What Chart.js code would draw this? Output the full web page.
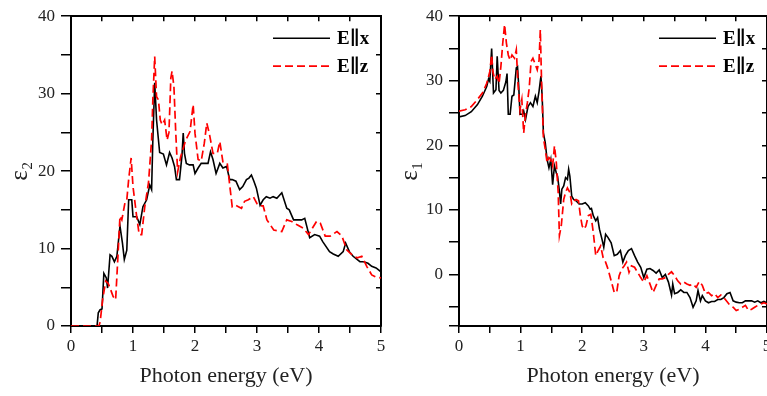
<!DOCTYPE html>
<html>
<head>
<meta charset="utf-8">
<script src="https://cdn.jsdelivr.net/npm/chart.js@4/dist/chart.umd.min.js"></script>
<style>
  html, body { margin:0; padding:0; background:#fff; width:767px; height:396px; overflow:hidden; }
  .box { position:absolute; top:0; }
  #b1 { left:0; width:390px; height:396px; }
  #b2 { left:390px; width:386px; height:396px; }
</style>
</head>
<body>
<div class="box" id="b1"><canvas id="c1" width="390" height="396"></canvas></div>
<div class="box" id="b2"><canvas id="c2" width="386" height="396"></canvas></div>
<script>
// ---------- data ----------
const seriesNames = ['E\u2225x', 'E\u2225z'];
const xTitle = 'Photon energy (eV)';
const yTitles = ['\u03B5\u2082', '\u03B5\u2081'];

// epsilon_2, E||x
const eps2xE = [0,0.42,0.44,0.47,0.5,0.53,0.57,0.59,0.63,0.66,0.7,0.74,0.79,0.83,0.86,0.9,0.93,0.98,1.0,1.06,1.11,1.16,1.22,1.27,1.3,1.32,1.35,1.38,1.43,1.49,1.54,1.59,1.63,1.67,1.7,1.75,1.79,1.81,1.83,1.86,1.91,1.97,2.0,2.05,2.1,2.16,2.21,2.25,2.29,2.34,2.4,2.45,2.51,2.56,2.6,2.66,2.72,2.77,2.83,2.87,2.91,2.95,2.99,3.05,3.1,3.15,3.21,3.26,3.32,3.4,3.48,3.52,3.59,3.65,3.72,3.77,3.85,3.93,4.01,4.06,4.17,4.23,4.31,4.39,4.43,4.49,4.55,4.66,4.72,4.79,4.85,4.92,5.0];
const eps2xV = [0,0,1.7,2.1,2.2,6.8,6.2,4.9,9.2,9.0,8.3,9.0,12.9,10.7,8.6,9.8,16.3,16.3,14.1,14.1,13.1,15.4,16.3,18.2,17.6,24,31.4,26.6,22.4,22.2,20.8,22.4,21.7,20.6,18.9,18.9,22,24.9,22.3,21,20.8,20.8,19.7,20.4,21,21,21,22.5,21.5,19.7,21,20.4,20.6,18.9,18.9,18.7,17.6,18.0,18.9,19.1,19.5,18.7,17.8,15.6,16.3,16.7,16.5,16.7,16.5,17.2,15.2,15.0,13.7,13.7,13.7,13.9,11.4,11.8,11.6,10.9,9.6,9.3,9.0,9.6,10.7,9.6,9.0,8.3,8.3,8.1,7.7,7.5,7.0];

// epsilon_2, E||z
const eps2zE = [0,0.45,0.47,0.51,0.56,0.6,0.63,0.68,0.72,0.76,0.79,0.82,0.87,0.9,0.93,0.97,1.0,1.06,1.1,1.14,1.19,1.25,1.3,1.32,1.35,1.38,1.41,1.44,1.47,1.51,1.55,1.58,1.61,1.63,1.66,1.69,1.72,1.77,1.85,1.92,1.97,2.0,2.05,2.1,2.15,2.19,2.23,2.29,2.36,2.4,2.45,2.52,2.56,2.6,2.65,2.7,2.75,2.8,2.86,2.94,3.0,3.05,3.1,3.16,3.27,3.4,3.48,3.56,3.64,3.75,3.83,3.96,4.02,4.1,4.18,4.29,4.37,4.45,4.56,4.62,4.69,4.77,4.85,4.92,5.0];
const eps2zV = [0,0,0.5,3.4,5.8,5.5,4.9,3.8,3.4,9.4,14.2,13.7,15.9,16.3,18.9,21.7,18.0,14.1,11.8,11.8,15.4,18.5,24.0,29.2,34.8,29.6,29.2,26.6,26.0,26.6,24.0,25.0,32.0,32.9,30.9,24.9,19.9,21.9,24.0,25.1,28.6,24.9,21.5,21.3,23.6,26.2,24.9,22.3,22.3,23.8,21.2,21.0,18.2,15.4,15.6,15.4,15.2,16.1,16.3,16.7,15.8,15.5,15.5,13.7,12.4,12.2,13.7,13.5,13.1,12.6,11.8,13.5,13.3,11.6,11.6,12.2,11.6,9.8,9.0,8.8,9.0,7.7,6.6,6.3,6.2];

// epsilon_1, E||x
const eps1xE = [0,0.1,0.2,0.3,0.38,0.45,0.48,0.5,0.53,0.56,0.6,0.62,0.65,0.68,0.72,0.76,0.78,0.8,0.83,0.86,0.89,0.93,0.95,0.97,0.99,1.03,1.05,1.08,1.12,1.16,1.2,1.24,1.27,1.3,1.33,1.35,1.37,1.4,1.43,1.46,1.49,1.52,1.55,1.58,1.6,1.63,1.65,1.67,1.7,1.73,1.76,1.78,1.8,1.83,1.86,1.9,1.95,2.0,2.05,2.1,2.13,2.15,2.18,2.22,2.25,2.28,2.32,2.35,2.38,2.42,2.47,2.52,2.57,2.62,2.66,2.7,2.75,2.8,2.85,2.9,2.95,3.0,3.05,3.1,3.15,3.2,3.25,3.3,3.35,3.4,3.45,3.47,3.5,3.55,3.6,3.65,3.7,3.75,3.8,3.85,3.88,3.92,3.95,4.0,4.05,4.1,4.15,4.2,4.25,4.3,4.35,4.4,4.45,4.5,4.55,4.6,4.65,4.7,4.75,4.8,4.85,4.9,4.95,5.0];
const eps1xV = [24.4,24.6,25.2,26.3,27.6,29.1,30.3,29.9,35.0,28.1,28.6,33.8,28.5,28.1,28.5,29.8,31.1,24.8,24.8,27.6,27.8,32.0,32.2,29.1,24.8,24.8,25.3,24.0,26.0,26.6,26.0,27.6,26.6,28.4,30.7,27.6,21.9,20.4,17.8,16.5,17.8,13.9,16.8,15.7,15.2,12.9,10.9,13.2,13.7,15.0,14.7,16.3,15.2,12.1,11.6,11.4,10.9,10.9,11.1,10.6,10.1,10.2,9.1,8.3,8.8,7.0,5.5,4.2,6.2,5.7,4.9,2.9,3.1,3.7,1.9,2.9,3.7,4.0,2.9,1.9,1.1,-0.5,0.8,0.9,0.6,0.2,0.7,-0.5,0,-1.2,-3.2,-1.5,-3.0,-2.8,-2.4,-2.8,-2.8,-3.6,-5.1,-4.1,-2.5,-4.1,-3.3,-4.1,-4.4,-4.2,-4.2,-3.9,-3.9,-3.6,-3.0,-2.8,-4.1,-4.3,-4.4,-4.4,-4.1,-4.1,-4.1,-4.3,-4.1,-4.4,-4.2,-4.4];

// epsilon_1, E||z
const eps1zE = [0,0.1,0.2,0.3,0.38,0.45,0.5,0.53,0.55,0.58,0.62,0.65,0.68,0.71,0.74,0.77,0.8,0.83,0.86,0.9,0.93,0.96,0.99,1.02,1.05,1.08,1.11,1.14,1.17,1.2,1.24,1.27,1.3,1.32,1.34,1.37,1.4,1.43,1.46,1.49,1.52,1.55,1.58,1.61,1.63,1.66,1.7,1.73,1.76,1.8,1.83,1.87,1.9,1.94,1.97,2.0,2.03,2.06,2.1,2.14,2.18,2.22,2.26,2.3,2.34,2.38,2.42,2.47,2.52,2.56,2.6,2.64,2.68,2.72,2.76,2.8,2.85,2.9,2.95,3.0,3.05,3.1,3.15,3.2,3.25,3.3,3.35,3.4,3.45,3.5,3.55,3.6,3.65,3.7,3.75,3.8,3.85,3.9,3.95,4.0,4.05,4.1,4.15,4.2,4.25,4.3,4.35,4.4,4.45,4.5,4.55,4.6,4.65,4.7,4.75,4.8,4.85,4.9,4.95,5.0];
const eps1zV = [25.3,25.5,26.0,27.1,28.1,29.6,31.4,34.0,31.4,30.2,30.7,29.6,32.2,35.8,38.7,35.8,34.0,33.2,34.0,33.5,34.8,29.1,25.5,27.1,21.9,24.8,26.6,28.9,33.0,33.5,32.5,31.7,33.2,37.9,29.9,21.2,19.4,17.3,18.1,17.8,16.8,19.9,17.3,12.7,6.0,7.5,11.6,12.7,13.4,12.7,10.9,11.4,11.6,11.4,9.1,7.5,7.0,7.5,9.1,9.3,6.5,2.9,3.7,4.4,2.6,1.9,0.8,-1.0,-2.8,-2.8,-0.2,0.8,1.3,1.9,0.3,1.3,1.1,0.3,-0.5,-1.2,-0.2,-1.5,-2.8,-1.7,-0.7,-0.7,-0.5,0,0.4,-0.2,-1.0,-1.5,-1.2,-1.5,-1.7,-1.5,-2.0,-1.1,-1.7,-3.0,-2.8,-3.3,-3.0,-3.6,-3.2,-3.6,-4.2,-4.8,-5.1,-5.6,-5.4,-5.1,-4.8,-5.6,-5.4,-5.1,-4.8,-4.6,-4.4,-4.6];

const xTickValues = [0,1,2,3,4,5];
const yRanges = [[0,40],[-8,40]];

// ---------- helpers ----------
const SERIF = '"Liberation Serif", "Times New Roman", "DejaVu Serif", serif';
const pts = (xs, ys) => xs.map((x, i) => ({x, y: ys[i]}));
const isInt = (v, m) => Math.abs(v / m - Math.round(v / m)) < 1e-6;

const legendPlugin = {
  id: 'insideLegend',
  afterDatasetsDraw(chart) {
    const ctx = chart.ctx, a = chart.chartArea;
    ctx.save();
    const dsIdx = [chart.data.datasets.findIndex(d => d.label === seriesNames[0]),
                   chart.data.datasets.findIndex(d => d.label === seriesNames[1])];
    dsIdx.forEach((di, row) => {
      const ds = chart.data.datasets[di];
      const y = a.top + 22 + row * 28;
      ctx.beginPath();
      ctx.strokeStyle = ds.borderColor;
      ctx.lineWidth = ds.borderWidth;
      ctx.setLineDash(ds.borderDash || []);
      ctx.moveTo(a.right - 108, y);
      ctx.lineTo(a.right - 51, y);
      ctx.stroke();
      ctx.setLineDash([]);
      ctx.fillStyle = '#000';
      ctx.font = 'bold 19px ' + SERIF;
      ctx.textBaseline = 'middle';
      ctx.textAlign = 'left';
      ctx.fillText(ds.label, a.right - 44, y + 1);
    });
    ctx.restore();
  }
};

function makeChart(canvasId, idx, blackPts, redPts, yAxisWidth) {
  const [ymin, ymax] = yRanges[idx];
  return new Chart(document.getElementById(canvasId), {
    type: 'line',
    data: {
      datasets: [
        { label: seriesNames[1], data: redPts, borderColor: '#ff0000', borderWidth: 1.7,
          borderDash: [8, 4], pointRadius: 0, fill: false, tension: 0 },
        { label: seriesNames[0], data: blackPts, borderColor: '#000000', borderWidth: 1.6,
          pointRadius: 0, fill: false, tension: 0 }
      ]
    },
    options: {
      responsive: false,
      animation: false,
      devicePixelRatio: 1,
      layout: { padding: { top: 16, right: 9, left: 0, bottom: 0 } },
      plugins: { legend: { display: false }, tooltip: { enabled: false } },
      scales: {
        x: {
          type: 'linear', position: 'bottom', min: 0, max: 5,
          ticks: { stepSize: 0.5, color: '#222', font: { family: SERIF, size: 17 }, padding: 3,
                   maxRotation: 0, autoSkip: false,
                   callback: v => isInt(v, 1) && xTickValues.includes(Math.round(v)) ? String(Math.round(v)) : '' },
          grid: { drawOnChartArea: false, color: '#000', lineWidth: 1.5, tickLength: 7 },
          border: { color: '#000', width: 2 },
          title: { display: true, text: xTitle, color: '#222', font: { family: SERIF, size: 22 },
                   padding: { top: 0, bottom: 7 } },
          afterFit: s => { s.height = 70; }
        },
        x2: {
          type: 'linear', position: 'top', min: 0, max: 5,
          ticks: { display: false, stepSize: 0.5 },
          grid: { drawOnChartArea: false, color: '#000', lineWidth: 1.5, tickLength: -5 },
          border: { color: '#000', width: 2 },
          afterFit: s => { s.height = 0; }
        },
        y: {
          type: 'linear', position: 'left', min: ymin, max: ymax,
          ticks: { stepSize: 5, color: '#222', font: { family: SERIF, size: 17 }, padding: 6,
                   autoSkip: false,
                   callback: v => isInt(v, 10) ? String(Math.round(v)) : '' },
          grid: { drawOnChartArea: false, color: '#000', lineWidth: 1.5, tickLength: 10 },
          border: { color: '#000', width: 2 },
          title: { display: true, text: yTitles[idx], color: '#222', font: { family: SERIF, size: 25 },
                   padding: { top: 5, bottom: 0 } },
          afterFit: s => { s.width = yAxisWidth; }
        },
        y2: {
          type: 'linear', position: 'right', min: ymin, max: ymax,
          ticks: { display: false, stepSize: 5 },
          grid: { drawOnChartArea: false, color: '#000', lineWidth: 1.5, tickLength: -5 },
          border: { color: '#000', width: 2 },
          afterFit: s => { s.width = 0; }
        }
      }
    },
    plugins: [legendPlugin]
  });
}

makeChart('c1', 0, pts(eps2xE, eps2xV), pts(eps2zE, eps2zV), 71);
makeChart('c2', 1, pts(eps1xE, eps1xV), pts(eps1zE, eps1zV), 69);
</script>
</body>
</html>
